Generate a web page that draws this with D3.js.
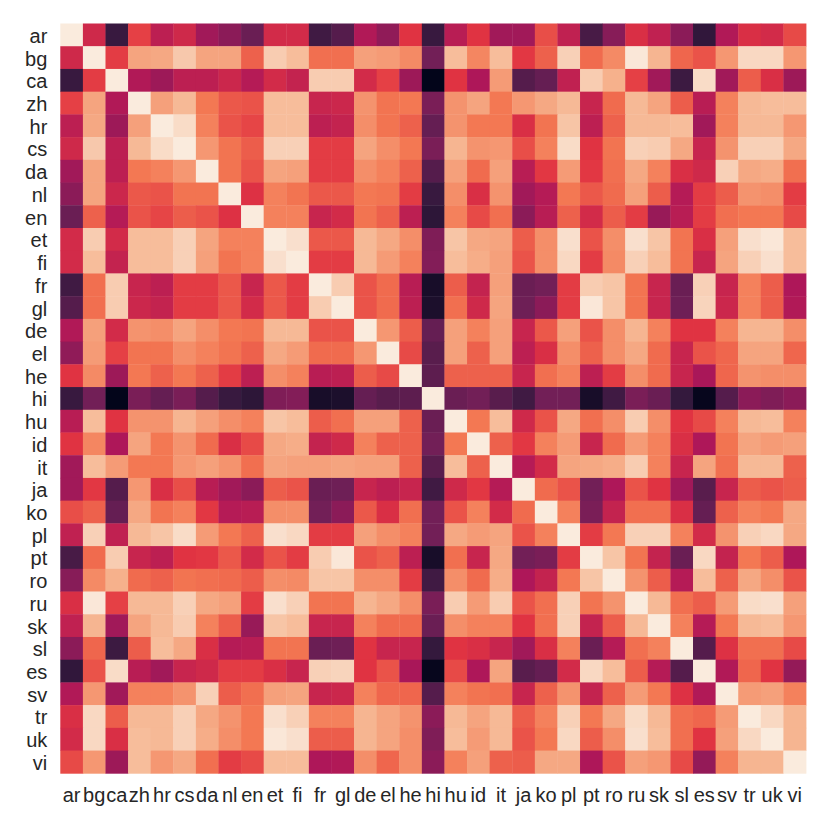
<!DOCTYPE html>
<html>
<head>
<meta charset="utf-8">
<script src="https://cdn.jsdelivr.net/npm/d3@7/dist/d3.min.js"></script>
<style>
  html, body { margin: 0; padding: 0; background: #fff; }
  svg { display: block; }
  .tick text { font-family: "Liberation Sans", Arial, sans-serif; fill: #262626; }
</style>
</head>
<body>
<svg id="chart" width="830" height="830"></svg>
<script>
// Language labels (rows and columns share the same order)
const languages = ["ar","bg","ca","zh","hr","cs","da","nl","en","et","fi","fr","gl","de","el","he","hi","hu","id","it","ja","ko","pl","pt","ro","ru","sk","sl","es","sv","tr","uk","vi"];

// Upper triangle of the symmetric similarity matrix (row i lists columns i+1 .. end); diagonal = 1
const upperRows = [
  [0.52,0.15,0.60,0.47,0.52,0.40,0.35,0.27,0.53,0.53,0.17,0.22,0.44,0.36,0.57,0.15,0.46,0.57,0.40,0.40,0.63,0.48,0.19,0.34,0.55,0.48,0.35,0.13,0.44,0.55,0.53,0.62],
  [0.59,0.82,0.83,0.91,0.82,0.82,0.67,0.92,0.88,0.70,0.70,0.81,0.80,0.76,0.29,0.88,0.75,0.88,0.58,0.67,0.93,0.69,0.76,0.99,0.86,0.68,0.64,0.79,0.95,0.95,0.79],
  [0.44,0.39,0.47,0.47,0.51,0.45,0.53,0.49,0.92,0.92,0.53,0.60,0.39,0.00,0.57,0.43,0.80,0.22,0.26,0.48,0.92,0.85,0.60,0.40,0.16,0.96,0.40,0.66,0.55,0.39],
  [0.81,0.87,0.72,0.65,0.64,0.88,0.88,0.50,0.51,0.78,0.71,0.72,0.31,0.78,0.82,0.72,0.79,0.83,0.87,0.50,0.69,0.87,0.82,0.66,0.46,0.74,0.87,0.88,0.88],
  [0.96,0.74,0.64,0.61,0.88,0.88,0.47,0.49,0.77,0.71,0.67,0.26,0.78,0.72,0.72,0.55,0.71,0.90,0.47,0.67,0.87,0.87,0.88,0.40,0.74,0.87,0.87,0.79],
  [0.79,0.71,0.66,0.93,0.93,0.59,0.59,0.82,0.77,0.72,0.31,0.86,0.78,0.79,0.63,0.74,0.96,0.57,0.71,0.93,0.92,0.83,0.50,0.78,0.93,0.93,0.83],
  [0.71,0.64,0.82,0.81,0.59,0.59,0.77,0.74,0.67,0.22,0.81,0.69,0.81,0.46,0.58,0.80,0.58,0.70,0.83,0.74,0.55,0.52,0.93,0.83,0.84,0.70],
  [0.56,0.74,0.71,0.65,0.65,0.72,0.71,0.59,0.15,0.77,0.55,0.78,0.40,0.45,0.72,0.65,0.69,0.81,0.66,0.45,0.59,0.66,0.78,0.77,0.59],
  [0.74,0.74,0.50,0.53,0.71,0.67,0.47,0.12,0.74,0.62,0.70,0.35,0.46,0.67,0.53,0.66,0.59,0.38,0.46,0.59,0.70,0.72,0.72,0.62],
  [0.97,0.65,0.65,0.87,0.83,0.77,0.32,0.90,0.83,0.82,0.66,0.77,0.97,0.64,0.77,0.97,0.90,0.71,0.55,0.81,0.97,0.99,0.88],
  [0.59,0.59,0.87,0.80,0.74,0.33,0.88,0.84,0.81,0.64,0.77,0.95,0.59,0.76,0.93,0.88,0.71,0.50,0.82,0.93,0.97,0.88],
  [0.92,0.64,0.69,0.46,0.06,0.66,0.49,0.81,0.27,0.29,0.59,0.92,0.90,0.71,0.50,0.27,0.93,0.50,0.74,0.66,0.43],
  [0.64,0.69,0.47,0.07,0.70,0.52,0.82,0.28,0.35,0.59,0.99,0.90,0.71,0.50,0.28,0.94,0.51,0.74,0.66,0.44],
  [0.79,0.66,0.26,0.81,0.74,0.81,0.50,0.65,0.81,0.64,0.77,0.86,0.74,0.57,0.57,0.74,0.86,0.86,0.77],
  [0.62,0.23,0.81,0.67,0.81,0.47,0.55,0.77,0.67,0.77,0.83,0.69,0.50,0.64,0.68,0.82,0.82,0.68],
  [0.24,0.67,0.67,0.67,0.50,0.70,0.74,0.47,0.59,0.77,0.69,0.50,0.42,0.68,0.78,0.77,0.77],
  [0.27,0.29,0.23,0.17,0.29,0.29,0.06,0.17,0.31,0.27,0.14,0.01,0.22,0.35,0.32,0.35],
  [0.72,0.88,0.52,0.64,0.83,0.70,0.77,0.92,0.77,0.57,0.62,0.74,0.87,0.88,0.74],
  [0.67,0.58,0.74,0.80,0.50,0.69,0.80,0.74,0.55,0.43,0.71,0.82,0.80,0.81],
  [0.45,0.53,0.82,0.83,0.84,0.92,0.74,0.50,0.82,0.70,0.87,0.87,0.67],
  [0.69,0.64,0.29,0.43,0.64,0.57,0.40,0.23,0.50,0.66,0.64,0.66],
  [0.74,0.31,0.49,0.70,0.70,0.55,0.26,0.67,0.74,0.72,0.83],
  [0.59,0.72,0.93,0.93,0.74,0.53,0.78,0.93,0.95,0.83],
  [0.90,0.71,0.49,0.27,0.95,0.49,0.72,0.66,0.43],
  [0.78,0.66,0.45,0.88,0.67,0.83,0.77,0.64],
  [0.87,0.70,0.66,0.80,0.96,0.97,0.81],
  [0.74,0.45,0.72,0.87,0.88,0.79],
  [0.22,0.56,0.70,0.70,0.62],
  [0.44,0.68,0.57,0.37],
  [0.80,0.81,0.74],
  [0.95,0.86],
  [0.86],
  []
];
const diagonalValue = 1.0;

// "rocket"-like colormap stops
const rocketStops = ["#03051a","#35193e","#701f57","#ad1759","#e13342","#f37651","#f6b48f","#faebdd"];

// Build the full cell list from the upper triangle
const cells = [];
languages.forEach((ri, i) => {
  languages.forEach((cj, j) => {
    let v;
    if (i === j) v = diagonalValue;
    else if (j > i) v = upperRows[i][j - i - 1];
    else v = upperRows[j][i - j - 1];
    cells.push({ row: ri, col: cj, value: v });
  });
});

const svg = d3.select("#chart");
const plotLeft = 60.3, plotTop = 23.5, plotRight = 806, plotBottom = 773.3;

const x = d3.scaleBand().domain(languages).range([plotLeft, plotRight]).padding(0);
const y = d3.scaleBand().domain(languages).range([plotTop, plotBottom]).padding(0);
const color = d3.scaleLinear()
  .domain(rocketStops.map((_, i) => i / (rocketStops.length - 1)))
  .range(rocketStops)
  .clamp(true);

svg.append("g")
  .selectAll("rect")
  .data(cells)
  .join("rect")
  .attr("x", d => x(d.col))
  .attr("y", d => y(d.row))
  .attr("width", x.bandwidth() + 0.4)
  .attr("height", y.bandwidth() + 0.4)
  .attr("fill", d => color(d.value));

// Axes
const xAxis = svg.append("g")
  .attr("transform", `translate(0,${plotBottom})`)
  .call(d3.axisBottom(x).tickSize(0).tickPadding(14.2));
xAxis.select(".domain").remove();
xAxis.selectAll("text").style("font-size", "20px");

const yAxis = svg.append("g")
  .attr("transform", `translate(${plotLeft},0)`)
  .call(d3.axisLeft(y).tickSize(0).tickPadding(13));
yAxis.select(".domain").remove();
yAxis.selectAll("text").style("font-size", "20px").attr("dy", "0.4em");
</script>
</body>
</html>
